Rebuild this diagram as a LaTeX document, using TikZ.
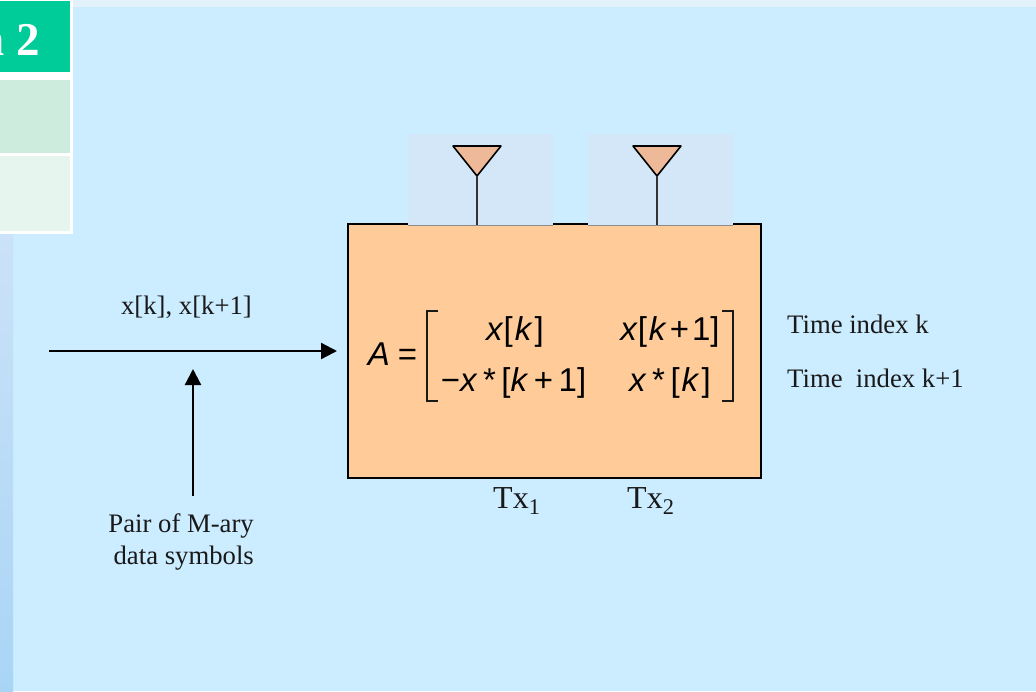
\documentclass[tikz,border=0pt]{standalone}
\usepackage{fontspec}
\setmainfont{Liberation Serif}
\newfontfamily\matfont{Liberation Sans}
\usetikzlibrary{arrows.meta}
\definecolor{bgblue}{HTML}{CCECFF}
\definecolor{topblue}{HTML}{E3F1FB}
\definecolor{sideblue}{HTML}{A9D5F5}
\definecolor{sidetop}{HTML}{CBE2F8}
\definecolor{antblue}{HTML}{D3E7F8}
\definecolor{boxorange}{HTML}{FFCC99}
\definecolor{antorange}{HTML}{EDB999}
\definecolor{tabgreen}{HTML}{00CC99}
\definecolor{tabmid}{HTML}{CDECDD}
\definecolor{tablight}{HTML}{E6F5EE}
\tikzset{
    lbl/.style={font=\fontsize{26.7}{32}\selectfont, align=right, inner sep=0pt, text=black!90},
    txlbl/.style={font=\fontsize{32}{36}\selectfont, inner sep=0pt, anchor=base west, text=black!90},
    entry/.style={font=\matfont\fontsize{33}{38}\selectfont, inner sep=0pt, anchor=base},
    antenna/.style={draw=black, fill=antorange, line width=1.6pt, line join=round},
    mast/.style={draw=black!80, line width=1.3pt},
    flow/.style={draw=black, line width=2.3pt, -{Triangle[length=16pt,width=16pt]}},
    brk/.style={draw=black!90, line width=1.2pt}
}
\begin{document}
\begin{tikzpicture}[x=1pt, y=-1pt]
    \useasboundingbox (0,0) rectangle (1036,691);
    \begin{scope}
    \clip (0,0) rectangle (1036,691);
    % background
    \fill[bgblue] (0,0) rectangle (1036,691);
    \fill[topblue] (72,0) rectangle (1036,7);
    \shade[top color=sidetop, bottom color=sideblue] (0,233) rectangle (13,691);
    % title tabs
    \fill[white] (0,0) rectangle (73,233.5);
    \fill[tabgreen] (0,1) rectangle (70,72);
    \fill[tabmid] (0,80) rectangle (70,153);
    \fill[tablight] (0,156) rectangle (70,231);
    \node[anchor=base east, text=white, inner sep=0pt, font=\bfseries\fontsize{47}{50}\selectfont] (title) at (40,55) {n 2};
    \end{scope}
    % transmitter block
    \node[draw=black, fill=boxorange, line width=1.5pt, minimum width=413pt, minimum height=254pt, inner sep=0pt] (block) at (554.5,351) {};
    \fill[antblue] (408,134) rectangle (553,225);
    \fill[antblue] (588,134) rectangle (733,225);
    \draw[black!45, line width=0.6pt] (408,225) -- (553,225) (588,225) -- (733,225);
    % antennas
    \foreach \i/\xa in {1/477, 2/657} {
        \draw[antenna] (\xa-24,146) -- (\xa+24,146) -- (\xa,176) -- cycle;
        \coordinate (tip\i) at (\xa,176);
        \coordinate (foot\i) at (\xa,225);
        \draw[mast] (tip\i) -- (foot\i);
    }
    % matrix
    \node[entry] (lhs) at (379,365) {\textit{A}};
    \node[entry] (eq) at (407.5,365) {=};
    \node[entry] (a11) at (515,340) {\textit{x}[\kern2pt\textit{k}\kern2pt]};
    \node[entry] (a12) at (670,340) {\textit{x}[\kern2pt\textit{k}\kern3pt+\kern3pt1]};
    \node[entry] (a21) at (513.5,391) {−\textit{x}\,*\,[\textit{k}\,+\,1]};
    \node[entry] (a22) at (670,391) {\textit{x}\,*\,[\kern2pt\textit{k}\kern2pt]};
    \draw[brk] (438,311) -- (427,311) -- (427,401) -- (438,401);
    \draw[brk] (722,311) -- (733,311) -- (733,401) -- (722,401);
    % labels
    \node[lbl, anchor=base] (sym) at (186.5,314) {x[k], x[k+1]};
    \node[lbl, anchor=east] (pair) at (254,542) {Pair of M-ary\\ data symbols};
    \node[lbl, anchor=base west] (row1) at (787,333) {Time index k};
    \node[lbl, anchor=base west] (row2) at (787,387) {Time\ \ index k+1};
    \node[txlbl] (tx1) at (493,508) {Tx\textsubscript{1}};
    \node[txlbl] (tx2) at (627,508) {Tx\textsubscript{2}};
    % arrows
    \coordinate (inL) at (49,351);
    \coordinate (inR) at (337,351);
    \coordinate (upB) at (193,496);
    \coordinate (upT) at (193,369);
    \draw[flow] (inL) -- (inR);
    \draw[flow] (upB) -- (upT);
\end{tikzpicture}
\end{document}
